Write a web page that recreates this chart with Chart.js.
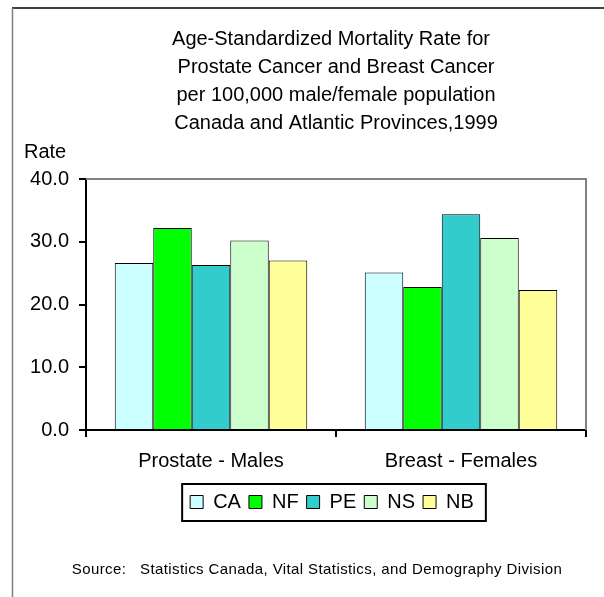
<!DOCTYPE html>
<html>
<head>
<meta charset="utf-8">
<script src="https://cdn.jsdelivr.net/npm/chart.js@4/dist/chart.umd.min.js"></script>
<style>
  html, body { margin: 0; padding: 0; background: #ffffff; }
  #wrap { width: 604px; height: 597px; position: relative; }
</style>
</head>
<body>
<div id="wrap"><canvas id="c" width="604" height="597"></canvas></div>
<script>
const categories = ["Prostate - Males", "Breast - Females"];
const seriesNames = ["CA", "NF", "PE", "NS", "NB"];
const CA = [26.6, 25.1];
const NF = [32.2, 22.8];
const PE = [26.3, 34.4];
const NS = [30.2, 30.6];
const NB = [27.0, 22.3];
const yTicks = [0, 10, 20, 30, 40];
const titleLines = [
  "Age-Standardized Mortality Rate for",
  "Prostate Cancer and Breast Cancer",
  "per 100,000 male/female population",
  "Canada and Atlantic Provinces,1999"
];
const yAxisLabel = "Rate";
const sourceText = "Source:   Statistics Canada, Vital Statistics, and Demography Division";

const colors = ["#CCFFFF", "#00FF00", "#33CCCC", "#CCFFCC", "#FFFF99"];
const seriesData = [CA, NF, PE, NS, NB];
const FONT = "'Liberation Sans', Arial, sans-serif";

const decor = {
  id: 'decor',
  afterLayout(chart) {
    const lg = chart.legend;
    if (lg) { lg.left = 78; lg.right = 586; }
  },
  beforeDraw(chart) {
    const ctx = chart.ctx;
    ctx.save();
    ctx.fillStyle = '#ffffff';
    ctx.fillRect(0, 0, chart.width, chart.height);
    ctx.strokeStyle = '#000000';
    ctx.lineWidth = 1.5;
    ctx.beginPath(); ctx.moveTo(12, 8); ctx.lineTo(604, 8); ctx.stroke();
    ctx.strokeStyle = '#808080';
    ctx.beginPath(); ctx.moveTo(12.5, 8); ctx.lineTo(12.5, 597); ctx.stroke();
    ctx.restore();
  },
  afterDatasetsDraw(chart) {
    const ctx = chart.ctx;
    const a = chart.chartArea;
    ctx.save();
    ctx.strokeStyle = '#808080';
    ctx.lineWidth = 2;
    ctx.beginPath();
    ctx.moveTo(a.left, a.top);
    ctx.lineTo(a.right, a.top);
    ctx.lineTo(a.right, a.bottom);
    ctx.stroke();
    ctx.restore();
  },
  afterDraw(chart) {
    const ctx = chart.ctx;
    const a = chart.chartArea;
    ctx.save();
    ctx.fillStyle = '#000000';
    ctx.textAlign = 'center';
    ctx.textBaseline = 'middle';
    ctx.font = "20px " + FONT;
    const cx = (a.left + a.right) / 2;
    titleLines.forEach((t, i) => ctx.fillText(t, cx - (i === 0 ? 5 : 0), 39 + i * 28.3));
    ctx.textAlign = 'left';
    ctx.fillText(yAxisLabel, 24, 152);
    ctx.textAlign = 'center';
    ctx.font = "15px " + FONT;
    try { ctx.letterSpacing = '0.4px'; } catch (e) {}
    ctx.fillText(sourceText, 317, 570);
    try { ctx.letterSpacing = '0px'; } catch (e) {}
    const lg = chart.legend;
    if (lg && lg.legendHitBoxes && lg.legendHitBoxes.length) {
      const hb = lg.legendHitBoxes;
      let l = Infinity, r = -Infinity, t = Infinity, b = -Infinity;
      hb.forEach(h => { l = Math.min(l, h.left); r = Math.max(r, h.left + h.width); t = Math.min(t, h.top); b = Math.max(b, h.top + h.height); });
      const cy = (t + b) / 2;
      ctx.strokeStyle = '#000000';
      ctx.lineWidth = 2;
      ctx.strokeRect(l - 8, cy - 18, (r - l) + 20, 37);
    }
    ctx.restore();
  }
};

new Chart(document.getElementById('c'), {
  type: 'bar',
  data: {
    labels: categories,
    datasets: seriesNames.map((n, i) => ({
      label: n,
      data: seriesData[i],
      backgroundColor: colors[i],
      borderColor: '#000000',
      borderWidth: 1,
      categoryPercentage: 0.77,
      barPercentage: 1.0
    }))
  },
  options: {
    responsive: false,
    animation: false,
    layout: { padding: { top: 179, left: 0, right: 18, bottom: 75 } },
    plugins: {
      title: { display: false },
      tooltip: { enabled: false },
      legend: {
        position: 'bottom',
        labels: {
          color: '#000000',
          font: { size: 20, family: FONT },
          boxWidth: 13,
          boxHeight: 13,
          padding: 8
        }
      }
    },
    scales: {
      x: {
        grid: { display: true, drawOnChartArea: false, drawTicks: true, tickLength: 7, color: '#000000', lineWidth: 2, offset: true },
        border: { display: true, color: '#000000', width: 2 },
        ticks: { color: '#000000', font: { size: 20, family: FONT }, padding: 12 },
        afterFit(s) { s.height = 54; }
      },
      y: {
        min: 0, max: 40,
        afterBuildTicks(s) { s.ticks = yTicks.map(v => ({ value: v })); },
        grid: { display: true, drawOnChartArea: false, drawTicks: true, tickLength: 7, color: '#000000', lineWidth: 2 },
        border: { display: true, color: '#000000', width: 2 },
        ticks: { color: '#000000', font: { size: 20, family: FONT }, padding: 10, callback: v => Number(v).toFixed(1) },
        afterFit(s) { s.width = 86; }
      }
    }
  },
  plugins: [decor]
});
</script>
</body>
</html>
